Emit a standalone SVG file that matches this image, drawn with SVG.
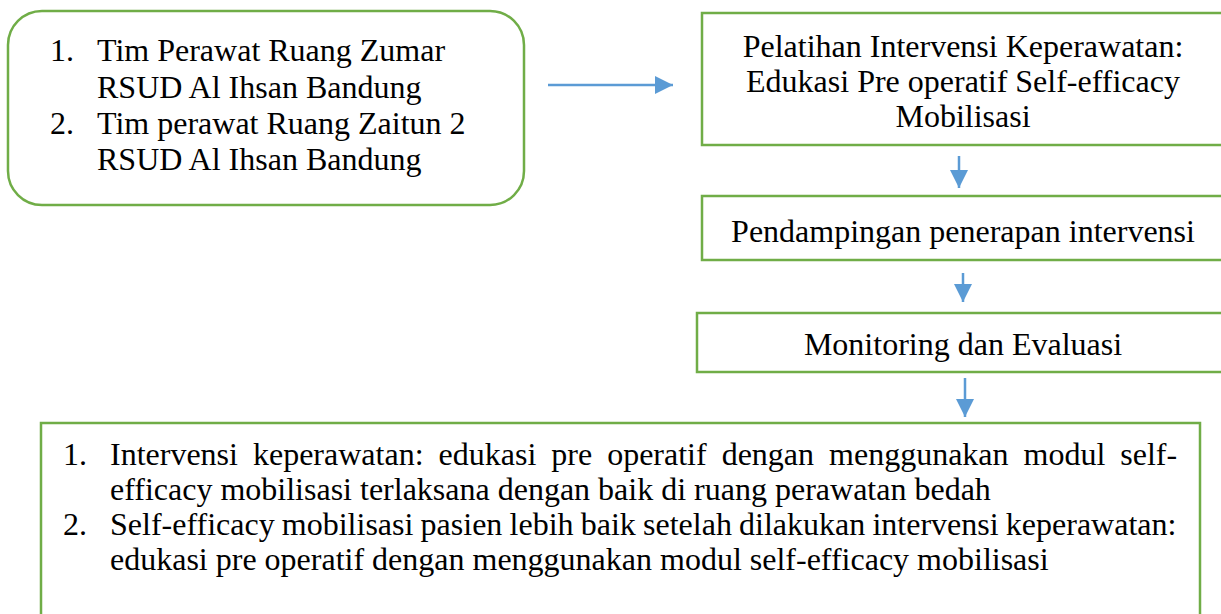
<svg xmlns="http://www.w3.org/2000/svg" width="1221" height="614" viewBox="0 0 1221 614">
<style>
.box{fill:#fff;stroke:#70AD47;stroke-width:2.5}
.t{font-family:"Liberation Serif","Times New Roman",serif;font-size:32px;fill:#000}
.c{text-anchor:middle}
.con{stroke:#5B9BD5;stroke-width:2.5;fill:none}
</style>
<defs>
<marker id="ah" markerUnits="userSpaceOnUse" markerWidth="18" markerHeight="18" viewBox="0 0 16 16" refX="16" refY="8" orient="auto">
<path d="M0,0 L16,8 L0,16 Z" fill="#5B9BD5"/>
</marker>
</defs>
<rect width="1221" height="614" fill="#fff"/>
<g id="connectors">
<line class="con" x1="548" y1="85" x2="673" y2="85" marker-end="url(#ah)"/>
<line class="con" x1="959" y1="156" x2="959" y2="188" marker-end="url(#ah)"/>
<line class="con" x1="963" y1="273" x2="963" y2="302" marker-end="url(#ah)"/>
<line class="con" x1="965" y1="378" x2="965" y2="417" marker-end="url(#ah)"/>
</g>
<g id="node-tim">
<rect class="box" x="8" y="11" width="516" height="194" rx="34" ry="34"/>
<text class="t"><tspan x="50" y="61">1.</tspan><tspan x="97" y="61">Tim Perawat Ruang Zumar</tspan><tspan x="97" y="98">RSUD Al Ihsan Bandung</tspan><tspan x="50" y="134">2.</tspan><tspan x="97" y="134">Tim perawat Ruang Zaitun 2</tspan><tspan x="97" y="170">RSUD Al Ihsan Bandung</tspan></text>
</g>
<g id="node-pelatihan">
<rect class="box" x="702" y="13" width="540" height="132"/>
<text class="t c"><tspan x="963" y="57">Pelatihan Intervensi Keperawatan:</tspan><tspan x="963" y="92">Edukasi Pre operatif Self-efficacy</tspan><tspan x="963" y="127">Mobilisasi</tspan></text>
</g>
<g id="node-pendampingan">
<rect class="box" x="702" y="196" width="540" height="64"/>
<text class="t c" x="963" y="242">Pendampingan penerapan intervensi</text>
</g>
<g id="node-monitoring">
<rect class="box" x="697" y="313" width="545" height="59"/>
<text class="t c" x="963" y="355">Monitoring dan Evaluasi</text>
</g>
<g id="node-hasil">
<rect class="box" x="41" y="423" width="1159" height="210"/>
<text class="t"><tspan x="63" y="465">1.</tspan><tspan x="110" y="465" word-spacing="7">Intervensi keperawatan: edukasi pre operatif dengan menggunakan modul self-</tspan><tspan x="110" y="500">efficacy mobilisasi terlaksana dengan baik di ruang perawatan bedah</tspan><tspan x="63" y="535">2.</tspan><tspan x="110" y="535" word-spacing="-0.8">Self-efficacy mobilisasi pasien lebih baik setelah dilakukan intervensi keperawatan:</tspan><tspan x="110" y="570">edukasi pre operatif dengan menggunakan modul self-efficacy mobilisasi</tspan></text>
</g>
</svg>
